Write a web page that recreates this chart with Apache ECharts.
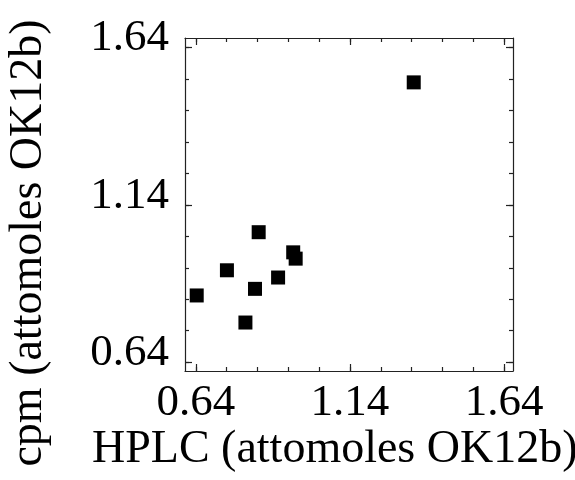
<!DOCTYPE html>
<html>
<head>
<meta charset="utf-8">
<script src="https://cdn.jsdelivr.net/npm/echarts@6/dist/echarts.min.js"></script>
<style>html,body{margin:0;padding:0;background:#fff}#c{width:575px;height:480px}</style>
</head>
<body>
<div id="c"></div>
<script>
var hplc = [1.347, 0.844, 0.956, 0.964, 0.741, 0.907, 0.832, 0.643, 0.801];
var cpm  = [1.529, 1.053, 0.989, 0.969, 0.932, 0.909, 0.873, 0.852, 0.766];
var majorTicks = [0.64, 1.14, 1.64];
var minorTicks = [0.64, 0.74, 0.84, 0.94, 1.04, 1.14, 1.24, 1.34, 1.44, 1.54, 1.64];
var tickLabels = ['0.64', '1.14', '1.64'];
var xTitle = 'HPLC (attomoles OK12b)';
var yTitle = 'cpm (attomoles OK12b)';
var xMin = 0.605, xMax = 1.669, yMin = 0.612, yMax = 1.670;

var FONT = '"Liberation Serif", "Times New Roman", serif';
var LINE = {show: true, lineStyle: {color: '#222', width: 1.2}};
function labelFmt(v) {
  for (var i = 0; i < majorTicks.length; i++) if (Math.abs(v - majorTicks[i]) < 1e-6) return tickLabels[i];
  return '';
}
function mkAxis(pos, vals, len, showLine, showLabel, isY) {
  var a = {
    type: 'value', position: pos,
    min: isY ? yMin : xMin, max: isY ? yMax : xMax,
    axisLine: showLine ? LINE : {show: false},
    axisTick: {show: true, inside: true, length: len, customValues: vals, lineStyle: {color: '#222', width: 1.2}},
    splitLine: {show: false},
    axisLabel: {show: false}
  };
  if (showLabel) {
    a.axisLabel = {
      show: true, customValues: majorTicks, formatter: labelFmt,
      fontFamily: FONT, fontSize: 45, color: '#000', margin: isY ? 16 : 10
    };
    if (isY) { a.axisLabel.verticalAlign = 'bottom'; a.axisLabel.lineHeight = 18; }
  }
  return a;
}
var chart = echarts.init(document.getElementById('c'), null, {renderer: 'canvas'});
chart.setOption({
  animation: false,
  backgroundColor: '#fff',
  grid: {left: 185, right: 62, top: 38, bottom: 109, containLabel: false},
  xAxis: [
    mkAxis('bottom', minorTicks, 4, true, true, false),
    mkAxis('bottom', majorTicks, 7, false, false, false),
    mkAxis('top', minorTicks, 4, true, false, false),
    mkAxis('top', majorTicks, 7, false, false, false)
  ],
  yAxis: [
    mkAxis('left', minorTicks, 4, true, true, true),
    mkAxis('left', majorTicks, 7, false, false, true),
    mkAxis('right', minorTicks, 4, true, false, true),
    mkAxis('right', majorTicks, 7, false, false, true)
  ],
  series: [{
    type: 'scatter', xAxisIndex: 0, yAxisIndex: 0,
    symbol: 'rect', symbolSize: 14,
    itemStyle: {color: '#000', opacity: 1},
    data: hplc.map(function (x, i) { return [x, cpm[i]]; })
  }],
  graphic: [
    {type: 'text', x: 92, y: 450,
     style: {text: xTitle, font: '46px ' + FONT, fill: '#000', align: 'left', verticalAlign: 'middle'}},
    {type: 'text', x: 29, y: 243, rotation: Math.PI / 2,
     style: {text: yTitle, font: '46px ' + FONT, fill: '#000', align: 'center', verticalAlign: 'middle'}}
  ]
});
</script>
</body>
</html>
